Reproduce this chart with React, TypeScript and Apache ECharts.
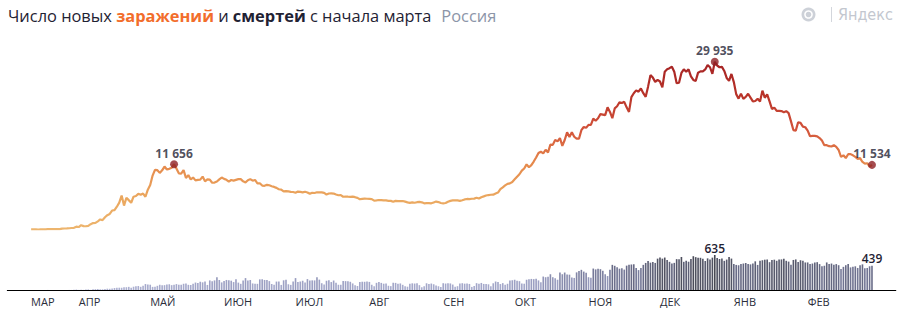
import React, { useEffect, useRef } from 'react';
import * as echarts from 'echarts';

// Daily new cases, Russia, 12 Mar 2020 – 28 Feb 2021 (one array per month)
const casesMar = [6, 11, 14, 4, 30, 21, 33, 52, 54, 53, 61, 71, 57, 163, 182, 196, 228, 270, 302, 501];
const casesApr = [440, 771, 601, 582, 658, 954, 1154, 1175, 1459, 1786, 1667, 2186, 2558, 2774, 3388, 3448, 4070, 4785, 6060, 4268, 5642, 5236, 4774, 5849, 5966, 6361, 6198, 6411, 5841, 7099];
const casesMay = [7933, 9623, 10633, 10581, 10102, 10559, 11231, 10699, 10817, 11012, 11656, 10899, 10028, 9974, 10598, 9200, 9709, 8926, 9263, 8764, 8849, 8894, 9434, 8599, 8946, 8915, 8338, 8371, 8572, 8952, 9268];
const casesJun = [9035, 8863, 8536, 8831, 8726, 8855, 8984, 8985, 8595, 8404, 8779, 8987, 8706, 8835, 8246, 8248, 7843, 7790, 7972, 7889, 7728, 7600, 7425, 7176, 7113, 6800, 6852, 6791, 6719, 6693];
const casesJul = [6556, 6760, 6718, 6632, 6736, 6611, 6368, 6562, 6509, 6635, 6611, 6615, 6537, 6248, 6422, 6428, 6406, 6234, 6109, 6139, 5842, 5862, 5848, 5811, 5871, 5765, 5635, 5395, 5475, 5509, 5482];
const casesAug = [5462, 5427, 5159, 5204, 5267, 5241, 5212, 5189, 5118, 5102, 4945, 5102, 5065, 5061, 5076, 4969, 4839, 4748, 4828, 4767, 4870, 4921, 4852, 4676, 4696, 4711, 4676, 4829, 4980, 4897, 4729];
const casesSep = [4670, 4729, 4952, 5110, 5205, 5195, 5185, 5099, 5218, 5363, 5449, 5406, 5488, 5509, 5670, 5529, 5762, 5905, 6065, 6148, 6196, 6215, 6431, 6595, 7212, 7523, 7867, 8135, 8232, 8481];
const casesOct = [8945, 9412, 9859, 10499, 10888, 11615, 11115, 11493, 12126, 12846, 13634, 13868, 13592, 14231, 13754, 15150, 15099, 15982, 15722, 16319, 14922, 15971, 17340, 16521, 17347, 16550, 16202, 16202, 17717, 18283, 18140];
const casesNov = [18665, 18648, 19768, 19404, 19851, 20582, 20498, 20396, 21798, 20977, 19851, 21608, 21983, 22702, 22572, 22778, 21798, 20977, 23610, 24318, 24822, 24581, 25173, 24326, 23675, 25487, 27543, 27100, 26338, 26683];
const casesDec = [26402, 25345, 28145, 28585, 28782, 29039, 28142, 26097, 26190, 27927, 28585, 28137, 28585, 27328, 26689, 26509, 27982, 28214, 28209, 28552, 29350, 28948, 27762, 29935, 29258, 28948, 29018, 28284, 27039, 26513, 27747];
const casesJan = [26301, 24150, 23351, 24246, 23309, 23652, 24217, 23541, 22851, 22934, 23315, 22850, 24763, 23510, 24092, 22857, 21513, 21734, 21153, 21152, 21127, 20921, 21116, 20759, 19290, 17741, 17648, 19138, 19032, 18359, 18241];
const casesFeb = [17648, 16643, 16714, 16688, 16627, 16319, 15861, 15039, 15048, 14861, 14807, 15046, 14731, 14185, 12948, 13233, 12742, 13433, 13447, 13233, 12953, 12604, 12742, 12048, 11749, 11823, 11198, 11534];

// Daily deaths, same days
const deathsMar = [0, 0, 0, 0, 0, 0, 0, 1, 0, 0, 0, 0, 0, 1, 0, 1, 1, 1, 4, 8];
const deathsApr = [2, 4, 2, 9, 11, 2, 13, 16, 18, 12, 12, 18, 24, 22, 28, 36, 41, 42, 41, 48, 51, 57, 42, 60, 66, 72, 58, 76, 108, 101];
const deathsMay = [96, 57, 58, 76, 95, 86, 88, 98, 104, 88, 94, 107, 96, 93, 113, 119, 94, 91, 115, 135, 127, 150, 139, 153, 92, 174, 161, 174, 232, 181, 138];
const deathsJun = [162, 182, 178, 169, 144, 197, 134, 112, 171, 216, 174, 181, 119, 113, 112, 193, 194, 182, 181, 161, 109, 95, 153, 154, 92, 176, 188, 104, 93, 154];
const deathsJul = [216, 147, 154, 168, 135, 198, 173, 175, 174, 232, 188, 123, 102, 168, 175, 144, 172, 130, 95, 95, 165, 161, 160, 149, 119, 85, 73, 147, 150, 149, 155];
const deathsAug = [147, 95, 70, 130, 144, 129, 114, 119, 77, 70, 130, 129, 114, 119, 94, 68, 60, 114, 121, 117, 121, 88, 50, 69, 122, 109, 117, 104, 83, 68, 53];
const deathsSep = [123, 117, 122, 119, 99, 61, 69, 120, 123, 115, 119, 110, 56, 74, 124, 112, 128, 110, 109, 103, 69, 122, 154, 145, 108, 125, 94, 113, 172, 177];
const deathsOct = [186, 169, 160, 117, 114, 186, 196, 201, 197, 202, 174, 141, 244, 232, 239, 286, 232, 215, 186, 317, 286, 317, 283, 278, 229, 219, 320, 346, 366, 334, 313];
const deathsNov = [232, 224, 389, 374, 386, 378, 349, 286, 253, 368, 456, 439, 411, 387, 395, 370, 442, 456, 463, 467, 401, 361, 401, 456, 491, 524, 496, 510, 491, 569];
const deathsDec = [589, 569, 589, 546, 511, 481, 492, 560, 559, 599, 511, 529, 513, 562, 613, 596, 584, 584, 569, 526, 574, 553, 587, 635, 581, 562, 571, 529, 552, 599, 570];
const deathsJan = [470, 455, 449, 470, 480, 490, 470, 465, 480, 520, 455, 530, 540, 550, 555, 505, 545, 550, 530, 555, 555, 565, 530, 515, 460, 545, 555, 510, 540, 530, 500];
const deathsFeb = [500, 470, 480, 500, 505, 470, 430, 440, 500, 470, 480, 460, 470, 450, 380, 420, 450, 470, 410, 420, 430, 400, 450, 465, 395, 400, 430, 439];

const monthNames = ['ЯНВ', 'ФЕВ', 'МАР', 'АПР', 'МАЙ', 'ИЮН', 'ИЮЛ', 'АВГ', 'СЕН', 'ОКТ', 'НОЯ', 'ДЕК'];
const markedCaseDates = ['2020-05-11', '2020-12-24', '2021-02-28'];
const markedDeathDates = ['2020-12-24', '2021-02-28'];

const DAY = 86400000;
const AXIS_START = Date.UTC(2020, 2, 2);
const AXIS_END = Date.UTC(2021, 2, 10);
const DATA_START = Date.UTC(2020, 2, 12);
const LABEL_END = Date.UTC(2021, 1, 28);

const cases = [
  ...casesMar, ...casesApr, ...casesMay, ...casesJun, ...casesJul, ...casesAug,
  ...casesSep, ...casesOct, ...casesNov, ...casesDec, ...casesJan, ...casesFeb,
];
const deaths = [
  ...deathsMar, ...deathsApr, ...deathsMay, ...deathsJun, ...deathsJul, ...deathsAug,
  ...deathsSep, ...deathsOct, ...deathsNov, ...deathsDec, ...deathsJan, ...deathsFeb,
];

const iso = (t: number) => new Date(t).toISOString().slice(0, 10);
const categories: string[] = [];
for (let t = AXIS_START; t <= AXIS_END; t += DAY) categories.push(iso(t));
const offset = Math.round((DATA_START - AXIS_START) / DAY);
const dataFirstCat = iso(DATA_START);

const fmt = (v: number) => String(v).replace(/\B(?=(\d{3})+(?!\d))/g, ' ');

export default function App() {
  const ref = useRef<HTMLDivElement>(null);

  useEffect(() => {
    document.body.style.margin = '0';
    if (!ref.current) return;
    const chart = echarts.init(ref.current, undefined, { renderer: 'svg' });

    const valAt = (arr: number[], i: number) => {
      const k = i - offset;
      return k >= 0 && k < arr.length ? arr[k] : null;
    };
    const lineData = categories.map((_, i) => valAt(cases, i));
    const labelFont = 'Open Sans, Noto Sans, sans-serif';
    const barData = categories.map((c, i) => {
      const v = valAt(deaths, i);
      if (v !== null && markedDeathDates.includes(c)) {
        return {
          value: v,
          label: {
            show: true, position: 'top', distance: 1, formatter: fmt(v),
            fontSize: 12, color: '#1f2233', fontFamily: labelFont, fontWeight: 600,
          },
        };
      }
      return v;
    });
    const markData = markedCaseDates.map((d) => [d, cases[categories.indexOf(d) - offset]]);

    const titleSize = 16.4;

    chart.setOption({
      animation: false,
      backgroundColor: '#ffffff',
      title: {
        left: 8,
        top: 4.5,
        padding: 0,
        text: '{n|Число новых }{o|заражений}{n| и }{b|смертей}{n| с начала марта}  {g|Россия}',
        textStyle: {
          rich: {
            n: { fontSize: titleSize, color: '#1f2233', fontFamily: labelFont, fontWeight: 'normal', lineHeight: 22 },
            o: { fontSize: titleSize, color: '#f26d2b', fontFamily: labelFont, fontWeight: 'bold', lineHeight: 22 },
            b: { fontSize: titleSize, color: '#1f2233', fontFamily: labelFont, fontWeight: 'bold', lineHeight: 22 },
            g: { fontSize: titleSize, color: '#8c95a8', fontFamily: labelFont, fontWeight: 'normal', lineHeight: 22 },
          },
        },
      },
      graphic: [
        { type: 'circle', shape: { cx: 808.5, cy: 14.5, r: 7 }, style: { fill: '#cdd1d8' } },
        { type: 'circle', shape: { cx: 808.5, cy: 14.5, r: 4.3 }, style: { fill: '#ffffff' } },
        { type: 'circle', shape: { cx: 808.5, cy: 14.5, r: 2.8 }, style: { fill: '#cdd1d8' } },
        { type: 'rect', shape: { x: 831, y: 7, width: 1, height: 15 }, style: { fill: '#d3d6dc' } },
        {
          type: 'text',
          style: {
            text: 'Яндекс', x: 838, y: 14.5, verticalAlign: 'middle', fontSize: 16,
            fill: '#c3c7cf', fontFamily: 'Liberation Sans Narrow, DejaVu Sans Condensed, sans-serif',
          },
        },
      ],
      grid: [
        { left: 7.3, right: 2.2, top: 61.35, bottom: 82.5, containLabel: false },
        { left: 7.3, right: 2.2, top: 255, bottom: 22, containLabel: false },
      ],
      xAxis: [
        { type: 'category', gridIndex: 0, data: categories, boundaryGap: false, show: false },
        {
          type: 'category', gridIndex: 1, data: categories, boundaryGap: false,
          axisLine: { show: true, lineStyle: { color: '#000000', width: 1 } },
          axisTick: { show: false },
          splitLine: { show: false },
          axisLabel: {
            show: true,
            interval: (_i: number, v: string) => {
              const t = Date.parse(v);
              if (v === dataFirstCat) return true;
              return v.slice(8) === '01' && t > DATA_START && t <= LABEL_END;
            },
            formatter: (v: string) => monthNames[Number(v.slice(5, 7)) - 1],
            align: 'left',
            margin: 6,
            fontSize: 11,
            color: '#2a2d3a',
            fontFamily: labelFont,
          },
        },
      ],
      yAxis: [
        { type: 'value', gridIndex: 0, min: 0, max: 30000, show: false },
        { type: 'value', gridIndex: 1, min: 0, max: 635, show: false },
      ],
      visualMap: [
        {
          type: 'continuous', show: false, seriesIndex: 0, dimension: 1, min: 0, max: 30000,
          inRange: { color: ['#edb56e', '#eaa65e', '#e5874b', '#d2523a', '#b83329', '#a52324'] },
        },
        {
          type: 'continuous', show: false, seriesIndex: 1, dimension: 1, min: 0, max: 635,
          inRange: { color: ['#b2b6d6', '#999dc0', '#6f7290', '#474853'] },
        },
      ],
      series: [
        {
          type: 'line', xAxisIndex: 0, yAxisIndex: 0, data: lineData,
          showSymbol: false, symbol: 'none', connectNulls: false,
          lineStyle: { width: 2.2 },
          emphasis: { disabled: true },
        },
        {
          type: 'bar', xAxisIndex: 1, yAxisIndex: 1, data: barData,
          barWidth: '68%',
          emphasis: { disabled: true },
        },
        {
          type: 'scatter', xAxisIndex: 0, yAxisIndex: 0, data: markData,
          symbolSize: 8,
          itemStyle: { color: '#8e1f24' },
          label: {
            show: true, position: 'top', distance: 1,
            formatter: (p: any) => fmt(p.value[1]),
            fontSize: 12, fontWeight: 'bold', color: '#1f2233', fontFamily: labelFont,
          },
          emphasis: { disabled: true },
          z: 5,
        },
      ],
    });

    return () => chart.dispose();
  }, []);

  return <div ref={ref} style={{ width: 898, height: 312 }} />;
}
